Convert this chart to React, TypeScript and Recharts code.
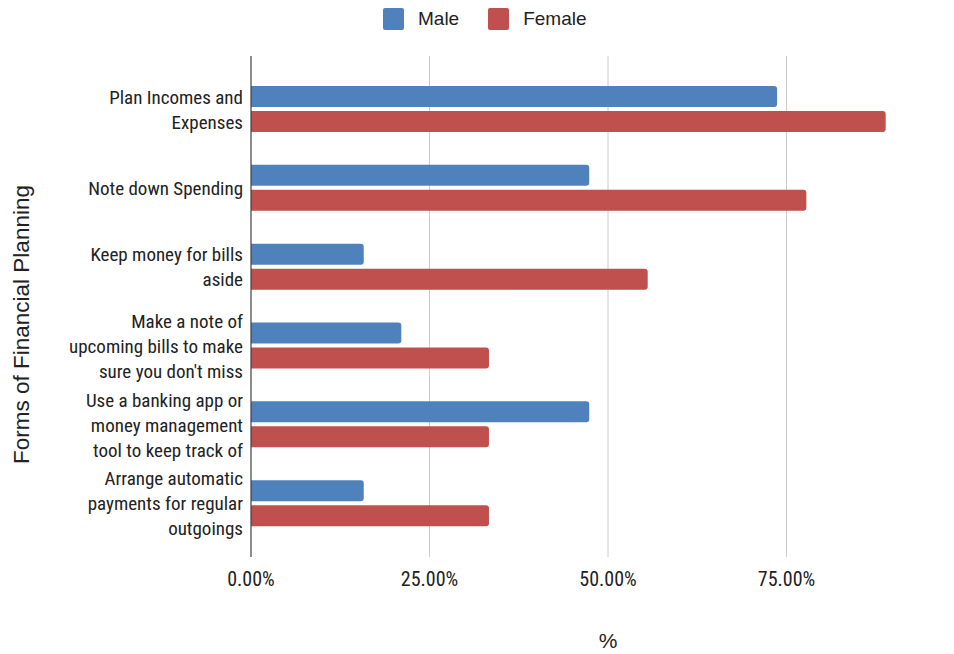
import React from 'react';
import { BarChart, Bar, XAxis, YAxis, CartesianGrid, Legend, Label } from 'recharts';

const categories = [
  'Plan Incomes and\nExpenses',
  'Note down Spending',
  'Keep money for bills\naside',
  "Make a note of\nupcoming bills to make\nsure you don't miss",
  'Use a banking app or\nmoney management\ntool to keep track of',
  'Arrange automatic\npayments for regular\noutgoings',
];

const maleValues = [0.7368, 0.4737, 0.1579, 0.2105, 0.4737, 0.1579];
const femaleValues = [0.8889, 0.7778, 0.5556, 0.3333, 0.3333, 0.3333];

const xTicks = [0, 0.25, 0.5, 0.75];

const SERIES = [
  { key: 'male', name: 'Male', color: '#4f81bd' },
  { key: 'female', name: 'Female', color: '#c0504d' },
];

const NARROW = "'Liberation Sans Narrow', 'Arial Narrow', 'Roboto Condensed', Roboto, sans-serif";
const SANS = "'Liberation Sans', Arial, sans-serif";

const data = categories.map((name, i) => ({
  name,
  male: maleValues[i],
  female: femaleValues[i],
}));

const CategoryTick = ({ x, y, payload }: any) => {
  const lines = String(payload.value).split('\n');
  const lineHeight = 25;
  const start = y - ((lines.length - 1) * lineHeight) / 2;
  return (
    <text x={x} y={start} textAnchor="end" fill="#222" fontSize={19} fontFamily={NARROW}>
      {lines.map((line, i) => (
        <tspan key={i} x={x} y={start + i * lineHeight} dy="0.36em">
          {line}
        </tspan>
      ))}
    </text>
  );
};

const LegendContent = () => (
  <div style={{ display: 'flex', alignItems: 'center', paddingLeft: 383, fontFamily: SANS, fontSize: 19, color: '#222' }}>
    {SERIES.map((s, i) => (
      <div key={s.key} style={{ display: 'flex', alignItems: 'center', marginRight: i === 0 ? 29 : 0 }}>
        <span style={{ width: 21, height: 22, borderRadius: 2, background: s.color, marginRight: 14 }} />
        <span>{s.name}</span>
      </div>
    ))}
  </div>
);

export default function App() {
  return (
    <div style={{ position: 'absolute', left: 0, top: 0, width: 954, height: 654, background: '#fff' }}>
      <BarChart
        width={954}
        height={654}
        data={data}
        layout="vertical"
        margin={{ top: 56, right: -11, bottom: 67, left: 0 }}
        barSize={21}
        barGap={4}
      >
        <CartesianGrid horizontal={false} stroke="#cccccc" />
        <XAxis
          type="number"
          domain={[0, 1]}
          ticks={xTicks}
          axisLine={false}
          tickLine={false}
          tickSize={0}
          tickMargin={15}
          height={30}
          interval={0}
          tickFormatter={(v: number) => `${(v * 100).toFixed(2)}%`}
          tick={{ fill: '#222', fontSize: 20, fontFamily: NARROW }}
        >
          <Label
            content={({ viewBox }: any) => (
              <text
                x={viewBox.x + viewBox.width / 2}
                y={viewBox.y + 91}
                textAnchor="middle"
                fill="#222"
                fontSize={21}
                fontFamily={SANS}
              >
                %
              </text>
            )}
          />
        </XAxis>
        <YAxis
          type="category"
          dataKey="name"
          width={251}
          padding={{ top: 14, bottom: 14 }}
          axisLine={{ stroke: '#333', strokeWidth: 1 }}
          tickLine={false}
          tickSize={0}
          tickMargin={8}
          interval={0}
          tick={<CategoryTick />}
        >
          <Label
            content={({ viewBox }: any) => {
              const cx = 29;
              const cy = viewBox.y + viewBox.height / 2 + 18;
              return (
                <text
                  x={cx}
                  y={cy}
                  transform={`rotate(-90 ${cx} ${cy})`}
                  textAnchor="middle"
                  fill="#222"
                  fontSize={22.5}
                  fontFamily={SANS}
                >
                  Forms of Financial Planning
                </text>
              );
            }}
          />
        </YAxis>
        <Legend
          layout="horizontal"
          align="center"
          verticalAlign="middle"
          content={<LegendContent />}
          wrapperStyle={{ top: 8, left: 0, width: 954, height: 24 }}
        />
        {SERIES.map((s) => (
          <Bar
            key={s.key}
            dataKey={s.key}
            name={s.name}
            fill={s.color}
            radius={[0, 3, 3, 0]}
            isAnimationActive={false}
          />
        ))}
      </BarChart>
    </div>
  );
}
